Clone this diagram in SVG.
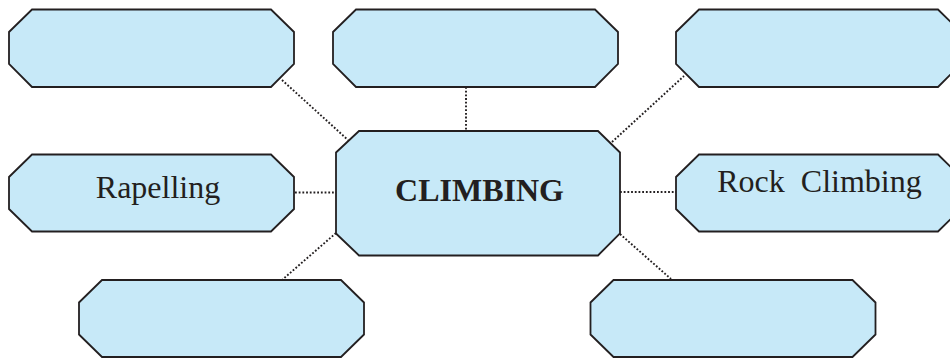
<svg xmlns="http://www.w3.org/2000/svg" width="950" height="358" viewBox="0 0 950 358">
<defs>
<style>
.box{fill:#c7e9f8;stroke:#231f20;stroke-width:1.8;stroke-linejoin:miter}
.lbl{font-family:"Liberation Serif","Times New Roman",serif;font-size:32px;fill:#231f20;text-anchor:middle}
.hub{font-weight:bold}
.dot{stroke:#231f20;stroke-width:1.9;stroke-dasharray:1.8 1.9;fill:none}
</style>
</defs>
<rect width="950" height="358" fill="#ffffff"/>
<g id="connectors">
<line class="dot" x1="282" y1="80" x2="348" y2="140"/>
<line class="dot" x1="466" y1="87" x2="466" y2="131"/>
<line class="dot" x1="612" y1="142" x2="684" y2="76"/>
<line class="dot" x1="295" y1="192.5" x2="336" y2="192.5"/>
<line class="dot" x1="620" y1="192" x2="676" y2="192"/>
<line class="dot" x1="336" y1="233" x2="282" y2="280"/>
<line class="dot" x1="620" y1="234" x2="671" y2="279"/>
</g>
<g id="node-top-left">
<polygon class="box" points="32,9.5 271,9.5 294,32 294,64 271,87 32,87 9,64 9,32"/>
</g>
<g id="node-top-center">
<polygon class="box" points="356,9.5 595,9.5 618,32 618,64 595,87 356,87 333,64 333,32"/>
</g>
<g id="node-top-right">
<polygon class="box" points="699,9.5 938,9.5 961,32 961,64 938,87 699,87 676,64 676,32"/>
</g>
<g id="node-center">
<polygon class="box" points="359,131 598,131 620,152.5 620,233.5 598,255.5 359,255.5 336,233.5 336,152.5"/>
<text class="lbl hub" x="479.5" y="200.5">CLIMBING</text>
</g>
<g id="node-rapelling">
<polygon class="box" points="32,154.5 271,154.5 294,177 294,209 271,231.5 32,231.5 9,209 9,177"/>
<text class="lbl" x="158" y="198.3">Rapelling</text>
</g>
<g id="node-rock-climbing">
<polygon class="box" points="699,154.5 938,154.5 961,177 961,209 938,231.5 699,231.5 676,209 676,177"/>
<text class="lbl" x="819.5" y="191.7" style="white-space:pre" xml:space="preserve">Rock  Climbing</text>
</g>
<g id="node-bottom-left">
<polygon class="box" points="102,280 341,280 364,302.5 364,334.5 341,357 102,357 79,334.5 79,302.5"/>
</g>
<g id="node-bottom-right">
<polygon class="box" points="613.5,280 852.5,280 875.5,302.5 875.5,334.5 852.5,357 613.5,357 590.5,334.5 590.5,302.5"/>
</g>
</svg>
